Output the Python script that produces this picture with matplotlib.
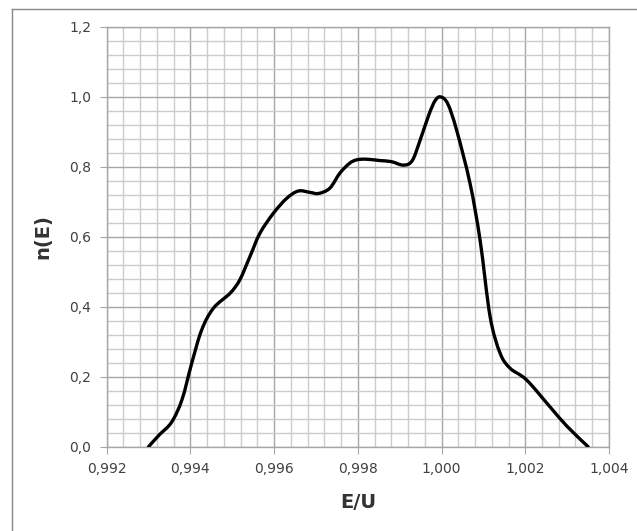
import matplotlib.pyplot as plt
from matplotlib.ticker import MultipleLocator, FuncFormatter
from matplotlib.lines import Line2D
from matplotlib.path import Path
from matplotlib.patches import PathPatch

# values
e_u = [0.99300, 0.99325, 0.99355, 0.99380, 0.99403, 0.99427, 0.99455, 0.99495,
       0.99518, 0.99542, 0.99566, 0.99598, 0.99630, 0.99658, 0.99686, 0.99706,
       0.99733, 0.99757, 0.99780, 0.99797, 0.99820, 0.99853,
       0.99880, 0.99909, 0.99930, 0.99949, 0.99970, 0.99985, 0.99998, 1.00015,
       1.00036, 1.00068, 1.00092, 1.00116, 1.00140, 1.00164, 1.00203, 1.00259,
       1.00300, 1.00350]
n_e = [0.000, 0.033, 0.070, 0.135, 0.238, 0.334, 0.396, 0.439,
       0.477, 0.543, 0.610, 0.667, 0.710, 0.731, 0.727, 0.724,
       0.739, 0.782, 0.810, 0.820, 0.822, 0.818,
       0.815, 0.805, 0.818, 0.877, 0.950, 0.990, 1.000, 0.980,
       0.905, 0.753, 0.591, 0.372, 0.267, 0.224, 0.191, 0.114,
       0.058, 0.000]

x_ticks = [0.992, 0.994, 0.996, 0.998, 1.000, 1.002, 1.004]


def smooth_path(xs, ys):
    # Excel-style smoothed line: Catmull-Rom segments drawn as cubic Bezier curves
    pts = list(zip(xs, ys))
    verts = [pts[0]]
    codes = [Path.MOVETO]
    n = len(pts)
    for i in range(n - 1):
        p0 = pts[max(i - 1, 0)]
        p1 = pts[i]
        p2 = pts[i + 1]
        p3 = pts[min(i + 2, n - 1)]
        c1 = (p1[0] + (p2[0] - p0[0]) / 6, p1[1] + (p2[1] - p0[1]) / 6)
        c2 = (p2[0] - (p3[0] - p1[0]) / 6, p2[1] - (p3[1] - p1[1]) / 6)
        verts += [c1, c2, p2]
        codes += [Path.CURVE4] * 3
    return Path(verts, codes)


fig = plt.figure(figsize=(6.37, 5.31), dpi=100)
ax = fig.add_axes([0.1675, 0.1588, 0.7885, 0.7904])

curve = PathPatch(smooth_path(e_u, n_e), facecolor="none", edgecolor="black",
                  lw=2.4, capstyle="round", joinstyle="round", zorder=3)
ax.add_patch(curve)

ax.set_xlim(0.992, 1.004)
ax.set_ylim(0, 1.2)
ax.set_xticks(x_ticks)
ax.xaxis.set_minor_locator(MultipleLocator(0.0004))
ax.yaxis.set_major_locator(MultipleLocator(0.2))
ax.yaxis.set_minor_locator(MultipleLocator(0.04))

ax.xaxis.set_major_formatter(FuncFormatter(lambda v, p: f"{v:.3f}".replace(".", ",")))
ax.yaxis.set_major_formatter(FuncFormatter(lambda v, p: f"{v:.1f}".replace(".", ",")))

ax.grid(which="minor", color="#cccccc", lw=1.0)
ax.grid(which="major", color="#a6a6a6", lw=1.0)
ax.set_axisbelow(True)

for s in ax.spines.values():
    s.set_color("#a6a6a6")
    s.set_linewidth(1.0)

ax.tick_params(which="major", direction="out", length=5, color="#a6a6a6",
               labelsize=10, labelcolor="#404040", pad=6)
ax.tick_params(which="minor", length=0)

ax.set_xlabel("E/U", fontsize=14, fontweight="bold", color="#333333", labelpad=12)
ax.set_ylabel("n(E)", fontsize=14, fontweight="bold", color="#333333", labelpad=12)

# outer chart frame
fig.add_artist(Line2D([12 / 637, 12 / 637], [0, 1 - 9 / 531], transform=fig.transFigure,
                      color="#888888", lw=1))
fig.add_artist(Line2D([12 / 637, 1], [1 - 9 / 531, 1 - 9 / 531], transform=fig.transFigure,
                      color="#888888", lw=1))

fig.savefig("out.png", dpi=100)
plt.close(fig)
